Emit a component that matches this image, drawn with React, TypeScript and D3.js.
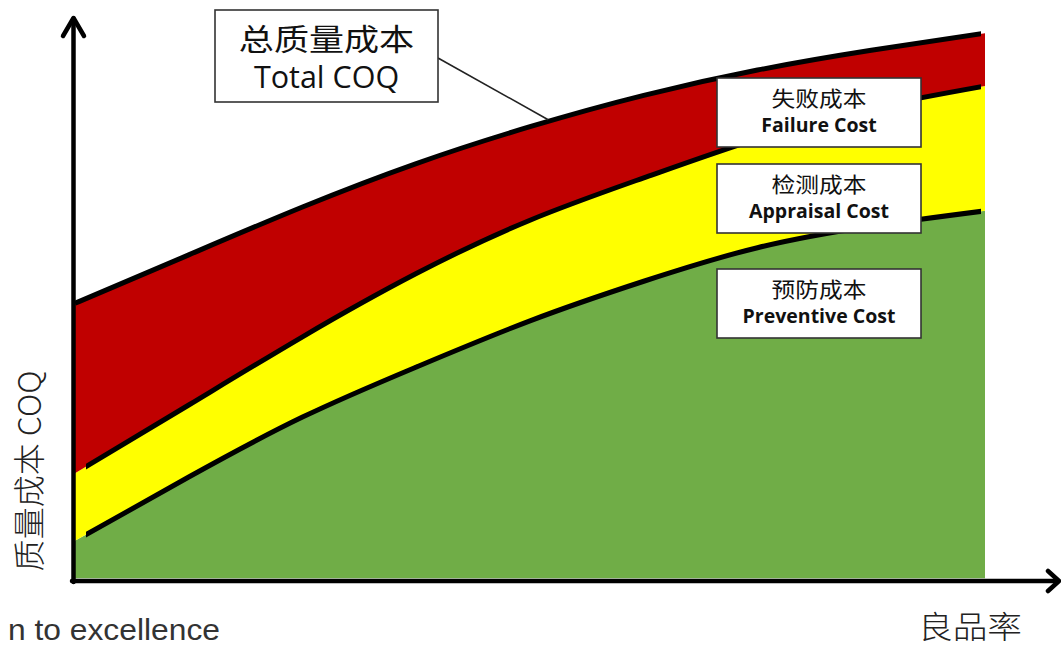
import React, { useRef, useEffect } from 'react';
import * as d3 from 'd3';

// quality rate (x) and cumulative cost curves (y), both on a 0-100 scale
const qualityRate = [0, 12.5, 25, 37.5, 50, 62.5, 75, 87.5, 100];
const preventiveTop = [7.3, 18.9, 29.8, 38.9, 47.3, 54.5, 60.6, 64.5, 67.3];
const appraisalTop = [19.6, 32, 44.4, 55.9, 65.6, 73.3, 80.4, 86.0, 90.0];
const totalCOQ = [50.5, 59.3, 68.0, 75.9, 82.6, 88.3, 92.9, 96.5, 99.6];

const bandLabels = [
  { zh: '失败成本', en: 'Failure Cost' },
  { zh: '检测成本', en: 'Appraisal Cost' },
  { zh: '预防成本', en: 'Preventive Cost' },
];
const totalLabel = { zh: '总质量成本', en: 'Total COQ' };
const yTitle = '质量成本 COQ';
const xTitle = '良品率';
const footText = 'n to excellence';

const W = 1061;
const H = 648;

const App: React.FC = () => {
  const svgRef = useRef<SVGSVGElement | null>(null);

  useEffect(() => {
    if (!svgRef.current) return;
    const svg = d3.select(svgRef.current);
    svg.selectAll('*').remove();

    const x = d3.scaleLinear().domain([0, 100]).range([75, 985]);
    const y = d3.scaleLinear().domain([0, 100]).range([581, 31]);

    const pts = qualityRate.map((q, i) => ({
      q,
      prev: preventiveTop[i],
      appr: appraisalTop[i],
      total: totalCOQ[i],
    }));
    type P = typeof pts[number];

    const curve = d3.curveNatural;

    // bands
    const bands: { c: string; y0: (d: P) => number; y1: (d: P) => number }[] = [
      { c: '#70AD47', y0: () => 0.5, y1: d => d.prev },
      { c: '#FFFF00', y0: d => d.prev, y1: d => d.appr },
      { c: '#C00000', y0: d => d.appr, y1: d => d.total },
    ];
    bands.forEach(b => {
      const area = d3.area<P>()
        .x(d => x(d.q))
        .y0(d => y(b.y0(d)))
        .y1(d => y(b.y1(d)))
        .curve(curve);
      svg.append('path').datum(pts).attr('fill', b.c).attr('d', area);
    });

    // clip rects for the boundary lines
    const defs = svg.append('defs');
    defs.append('clipPath').attr('id', 'clipTotal')
      .append('rect').attr('x', 75).attr('y', 0).attr('width', 906).attr('height', H);
    defs.append('clipPath').attr('id', 'clipInner')
      .append('rect').attr('x', 86).attr('y', 0).attr('width', 895).attr('height', H);

    const lines: { key: keyof P; clip: string }[] = [
      { key: 'prev', clip: 'clipInner' },
      { key: 'appr', clip: 'clipInner' },
      { key: 'total', clip: 'clipTotal' },
    ];
    lines.forEach(l => {
      const line = d3.line<P>()
        .x(d => x(d.q))
        .y(d => y(d[l.key] as number))
        .curve(curve);
      svg.append('path').datum(pts)
        .attr('fill', 'none')
        .attr('stroke', '#000')
        .attr('stroke-width', 5)
        .attr('clip-path', `url(#${l.clip})`)
        .attr('d', line);
    });

    // axes with arrows
    const ax = svg.append('g').attr('stroke', '#000').attr('fill', 'none')
      .attr('stroke-width', 4.5).attr('stroke-linecap', 'round').attr('stroke-linejoin', 'round');
    ax.append('line').attr('x1', 73.5).attr('x2', 73.5).attr('y1', 19).attr('y2', 582);
    ax.append('path').attr('d', 'M63,36 L73.5,18 L84,36');
    ax.append('line').attr('x1', 72).attr('x2', 1058).attr('y1', 581).attr('y2', 581);
    ax.append('path').attr('d', 'M1048,571 L1059,581 L1048,591');

    // helper for stretched text
    const addText = (
      g: d3.Selection<any, unknown, null, undefined>,
      tx: number, ty: number, str: string,
      size: number, family: string, weight: string | number, sx = 1, fill = '#111',
    ) => {
      g.append('text')
        .attr('transform', `translate(${tx},${ty}) scale(${sx},1)`)
        .attr('text-anchor', 'middle')
        .attr('font-family', family)
        .attr('font-size', size)
        .attr('font-weight', weight)
        .attr('fill', fill)
        .text(str);
    };

    const cjk = '"Noto Sans CJK SC", sans-serif';
    const latin = '"Open Sans", "Noto Sans", sans-serif';

    // total COQ callout
    const tg = svg.append('g');
    const anchorQ = 52;
    const i1 = d3.bisectLeft(qualityRate, anchorQ);
    const t = (anchorQ - qualityRate[i1 - 1]) / (qualityRate[i1] - qualityRate[i1 - 1]);
    const anchorV = totalCOQ[i1 - 1] + t * (totalCOQ[i1] - totalCOQ[i1 - 1]);
    tg.append('line')
      .attr('x1', 438).attr('y1', 58)
      .attr('x2', x(anchorQ)).attr('y2', y(anchorV) - 2)
      .attr('stroke', '#222').attr('stroke-width', 1.6);
    tg.append('rect').attr('x', 215).attr('y', 10).attr('width', 223).attr('height', 92)
      .attr('fill', '#fff').attr('stroke', '#333').attr('stroke-width', 1.6);
    addText(tg, 326.5, 50, totalLabel.zh, 30, cjk, 400, 1.17, '#111');
    addText(tg, 326.5, 88, totalLabel.en, 30.5, latin, 400, 1, '#111');

    // band label boxes
    const boxTops = [78, 164, 269];
    bandLabels.forEach((b, i) => {
      const g = svg.append('g');
      const top = boxTops[i];
      g.append('rect').attr('x', 717).attr('y', top).attr('width', 204).attr('height', 69)
        .attr('fill', '#fff').attr('stroke', '#333').attr('stroke-width', 1.6);
      addText(g, 819, top + 28, b.zh, 21, cjk, 400, 1.13, '#111');
      addText(g, 819, top + 54, b.en, 19.5, latin, 700, 1, '#111');
    });

    // axis titles
    svg.append('text')
      .attr('transform', 'translate(41,471) rotate(-90)')
      .attr('text-anchor', 'middle')
      .attr('font-family', '"Noto Sans CJK SC", sans-serif')
      .attr('font-weight', 300)
      .attr('font-size', 32)
      .attr('fill', '#222')
      .text(yTitle);

    svg.append('text')
      .attr('transform', 'translate(970,638) scale(1.12,1)')
      .attr('text-anchor', 'middle')
      .attr('font-family', '"Noto Sans CJK SC", sans-serif')
      .attr('font-weight', 300)
      .attr('font-size', 31)
      .attr('fill', '#222')
      .text(xTitle);

    svg.append('text')
      .attr('transform', 'translate(220,640) scale(1.06,1)')
      .attr('text-anchor', 'end')
      .attr('font-family', '"Liberation Sans", Arial, sans-serif')
      .attr('font-size', 30)
      .attr('fill', '#333')
      .text(footText);
  }, []);

  return (
    <div style={{ position: 'absolute', left: 0, top: 0, width: W, height: H, background: '#fff' }}>
      <svg ref={svgRef} width={W} height={H} style={{ display: 'block' }} />
    </div>
  );
};

export default App;
